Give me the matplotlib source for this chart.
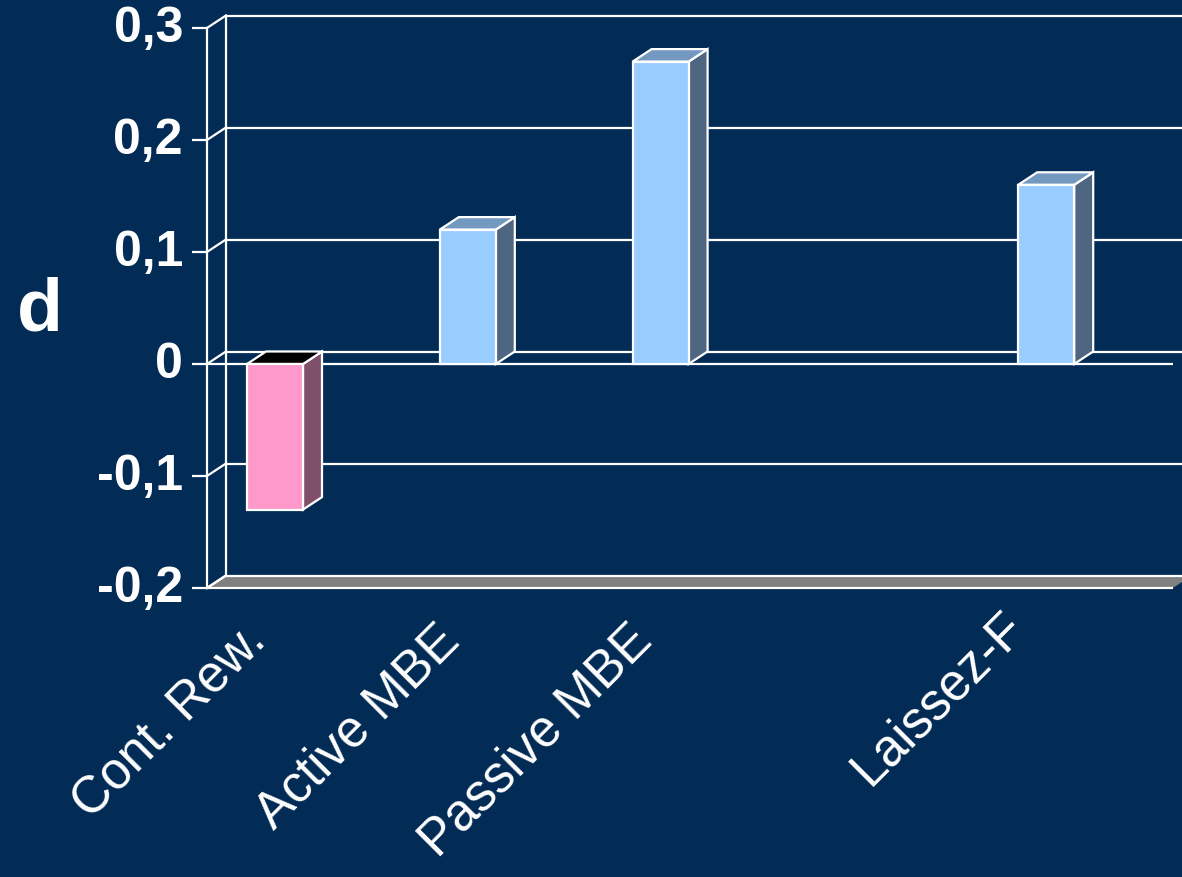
import matplotlib
matplotlib.use("Agg")
import matplotlib.pyplot as plt
from matplotlib.patches import Polygon
import numpy as np

# ---- data ----
categories = ["Cont. Rew.", "Active MBE", "Passive MBE", "", "Laissez-F"]
values = [-0.13, 0.12, 0.27, np.nan, 0.16]
face_colors = ["#FF99CC", "#99CCFF", "#99CCFF", "#99CCFF", "#99CCFF"]
side_colors = ["#80506A", "#4F6682", "#4F6682", "#4F6682", "#4F6682"]
top_colors = ["#000000", "#7399C0", "#7399C0", "#7399C0", "#7399C0"]
yticks = [-0.2, -0.1, 0.0, 0.1, 0.2, 0.3]
ytick_labels = ["-0,2", "-0,1", "0", "0,1", "0,2", "0,3"]
ylabel = "d"
# small per-label perpendicular nudges (pixels) to match the original placement
label_nudge_px = [0, 0, 0, 0, 19]

BG = "#022B55"
FLOOR = "#808080"
WHITE = "white"

# ---- layout (pixel mapping -> data units) ----
W, H = 1182, 878
px_per_cat = 192.8
x0_px = 275.0          # centre of first category (front face)
y0_px = 365.0          # value 0 (front)
px_per_unit = 1120.0   # pixels per 1.0 of value

fig = plt.figure(figsize=(W / 100, H / 100), dpi=100, facecolor=BG)
ax = fig.add_axes([0, 0, 1, 1])
ax.set_facecolor(BG)
ax.set_xlim((0 - x0_px) / px_per_cat, (W - x0_px) / px_per_cat)
ax.set_ylim((y0_px - H) / px_per_unit, y0_px / px_per_unit)
ax.axis("off")

dx = 19.0 / px_per_cat      # depth offset in x
dy = 12.5 / px_per_unit     # depth offset in y
bar_w = 56.0 / px_per_cat
x_lo = -0.5 + 0.147         # front-left edge of plot region
x_hi = len(categories) - 0.5 + 0.157
ymin, ymax = yticks[0], yticks[-1]
lw = 1.6

# back wall gridlines
for v in yticks[1:]:
    ax.plot([x_lo + dx, x_hi + dx + 1], [v + dy, v + dy], color=WHITE, lw=lw, zorder=2,
            solid_capstyle="butt")
# left wall: verticals and diagonals
ax.plot([x_lo, x_lo], [ymin, ymax], color=WHITE, lw=lw, zorder=3)
ax.plot([x_lo + dx, x_lo + dx], [ymin + dy, ymax + dy], color=WHITE, lw=lw, zorder=2)
for v in yticks:
    ax.plot([x_lo, x_lo + dx], [v, v + dy], color=WHITE, lw=lw, zorder=3)
    # tick marks
    ax.plot([x_lo - 15.0 / px_per_cat, x_lo], [v, v], color=WHITE, lw=lw, zorder=3,
            solid_capstyle="butt")

# floor
floor = Polygon([[x_lo, ymin], [x_hi, ymin], [x_hi + dx, ymin + dy], [x_lo + dx, ymin + dy]],
                closed=True, facecolor=FLOOR, edgecolor="none", zorder=2.5)
ax.add_patch(floor)
ax.plot([x_lo, x_hi], [ymin, ymin], color=WHITE, lw=lw, zorder=3, solid_capstyle="butt")
ax.plot([x_lo + dx, x_hi + dx + 1], [ymin + dy, ymin + dy], color=WHITE, lw=lw, zorder=3)
ax.plot([x_lo, x_lo + dx], [ymin, ymin + dy], color=WHITE, lw=lw, zorder=3)

# front zero line
ax.plot([x_lo, x_hi], [0, 0], color=WHITE, lw=lw, zorder=3, solid_capstyle="butt")

# bars
xs = np.arange(len(categories))
vals = np.array(values, dtype=float)
mask = ~np.isnan(vals)
ax.bar(xs[mask], vals[mask], width=bar_w, color=np.array(face_colors)[mask],
       edgecolor=WHITE, linewidth=lw, zorder=5)
for x, v, sc, tc in zip(xs, vals, side_colors, top_colors):
    if np.isnan(v):
        continue
    l, r = x - bar_w / 2, x + bar_w / 2
    top = max(v, 0.0)
    bot = min(v, 0.0)
    side = Polygon([[r, bot], [r + dx, bot + dy], [r + dx, top + dy], [r, top]],
                   closed=True, facecolor=sc, edgecolor=WHITE, linewidth=lw, zorder=4.5)
    ax.add_patch(side)
    topf = Polygon([[l, top], [r, top], [r + dx, top + dy], [l + dx, top + dy]],
                   closed=True, facecolor=tc, edgecolor=WHITE, linewidth=lw, zorder=4.5)
    ax.add_patch(topf)

# y tick labels
for v, s in zip(yticks, ytick_labels):
    ax.text(x_lo - 24.0 / px_per_cat, v, s, ha="right", va="center", color=WHITE,
            fontsize=36, fontweight="bold", family="Liberation Sans", zorder=6)

# y label
ax.text((40 - x0_px) / px_per_cat, (y0_px - 311) / px_per_unit, ylabel, ha="center",
        va="center", color=WHITE, fontsize=54, fontweight="bold", family="Liberation Sans")

# category labels
for x, c, n in zip(xs, categories, label_nudge_px):
    if not c:
        continue
    ox = -16.0 - n * 0.707
    oy = 44.0 - n * 0.707
    ax.text(x + ox / px_per_cat, ymin - oy / px_per_unit, c, rotation=45,
            rotation_mode="anchor", ha="right", va="center", color=WHITE,
            fontsize=37, family="Liberation Sans")

fig.savefig("out.png", dpi=100, facecolor=BG)
